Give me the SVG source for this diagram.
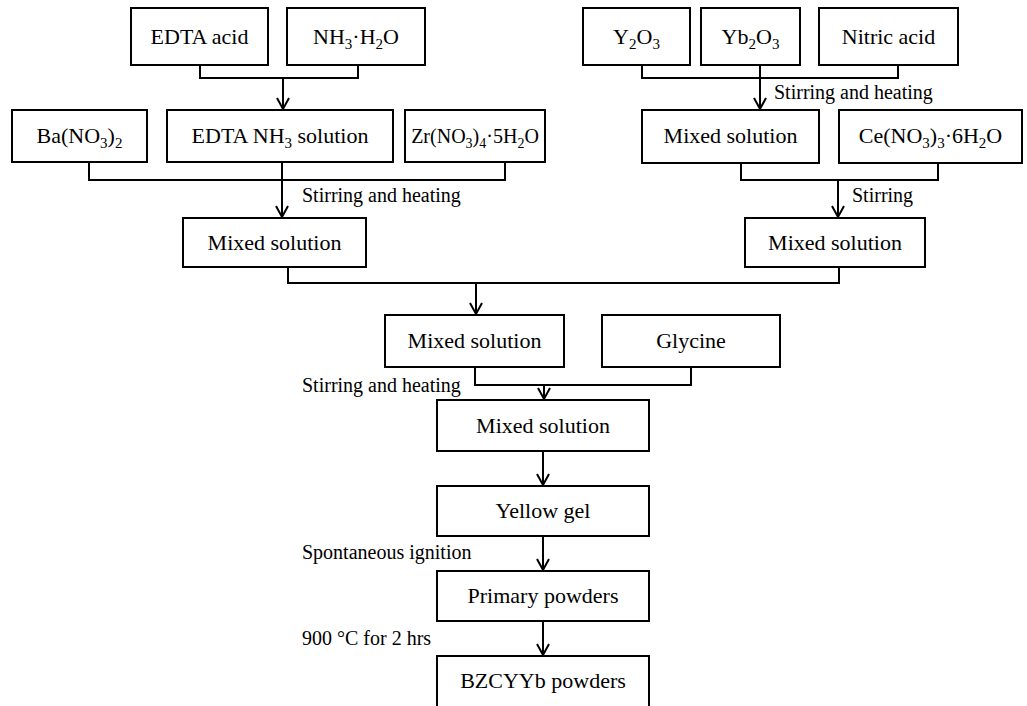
<svg xmlns="http://www.w3.org/2000/svg" width="1027" height="706" viewBox="0 0 1027 706">
<style>
.box{fill:#fff;stroke:#000;stroke-width:2}
.t{font-size:22px;fill:#000;text-anchor:middle}
.l{font-size:20px;fill:#000}
.c{fill:none;stroke:#000;stroke-width:2}
.s{font-size:15px}
</style>
<defs>
<marker id="ah" markerUnits="userSpaceOnUse" markerWidth="20" markerHeight="20" refX="0" refY="0" orient="auto" overflow="visible">
<path d="M-11,-6 L0,0 L-11,6" fill="none" stroke="#000" stroke-width="2"/>
</marker>
</defs>
<rect width="1027" height="706" fill="#fff"/>
<g id="connectors">
<path class="c" d="M200,65 V78 H358 V65"/>
<path class="c" d="M283,78 V109" marker-end="url(#ah)"/>
<path class="c" d="M642,65 V78 H898 V65"/>
<path class="c" d="M760,65 V109" marker-end="url(#ah)"/>
<path class="c" d="M89,162 V180 H505 V162"/>
<path class="c" d="M282,162 V217" marker-end="url(#ah)"/>
<path class="c" d="M741,163 V180 H938 V163"/>
<path class="c" d="M838,180 V217" marker-end="url(#ah)"/>
<path class="c" d="M288,267 V283 H839 V267"/>
<path class="c" d="M476,283 V314" marker-end="url(#ah)"/>
<path class="c" d="M475,367 V385 H691 V367"/>
<path class="c" d="M544,385 V399" marker-end="url(#ah)"/>
<path class="c" d="M543,451 V485" marker-end="url(#ah)"/>
<path class="c" d="M543,536 V570" marker-end="url(#ah)"/>
<path class="c" d="M543,621 V655" marker-end="url(#ah)"/>
</g>
<g font-family="Liberation Serif, Times New Roman, DejaVu Serif, serif">
<g id="labels">
<text class="l" x="774" y="99">Stirring and heating</text>
<text class="l" x="302" y="202">Stirring and heating</text>
<text class="l" x="852" y="202">Stirring</text>
<text class="l" x="302" y="392">Stirring and heating</text>
<text class="l" x="302" y="559">Spontaneous ignition</text>
<text class="l" x="302" y="645">900 °C for 2 hrs</text>
</g>
<g id="n-edta"><rect class="box" x="131" y="8" width="137" height="57"/><text class="t" x="199.5" y="44">EDTA acid</text></g>
<g id="n-nh3h2o"><rect class="box" x="287" y="8" width="138" height="57"/><text class="t" x="356" y="44">NH<tspan class="s" dy="5">3</tspan><tspan dy="-5">·H</tspan><tspan class="s" dy="5">2</tspan><tspan dy="-5">O</tspan></text></g>
<g id="n-y2o3"><rect class="box" x="583" y="8" width="107" height="57"/><text class="t" x="636.5" y="44">Y<tspan class="s" dy="5">2</tspan><tspan dy="-5">O</tspan><tspan class="s" dy="5">3</tspan></text></g>
<g id="n-yb2o3"><rect class="box" x="701" y="8" width="99" height="57"/><text class="t" x="750.5" y="44">Yb<tspan class="s" dy="5">2</tspan><tspan dy="-5">O</tspan><tspan class="s" dy="5">3</tspan></text></g>
<g id="n-nitric"><rect class="box" x="819" y="8" width="139" height="57"/><text class="t" x="888.5" y="44">Nitric acid</text></g>
<g id="n-ba"><rect class="box" x="12" y="110" width="135" height="52"/><text class="t" x="79.5" y="143">Ba(NO<tspan class="s" dy="5">3</tspan><tspan dy="-5">)</tspan><tspan class="s" dy="5">2</tspan></text></g>
<g id="n-edtanh3"><rect class="box" x="167" y="110" width="226" height="52"/><text class="t" x="280" y="143">EDTA NH<tspan class="s" dy="5">3</tspan><tspan dy="-5"> solution</tspan></text></g>
<g id="n-zr"><rect class="box" x="405" y="110" width="140" height="52"/><text class="t" x="475" y="143" style="font-size:20px">Zr(NO<tspan style="font-size:14px" dy="5">3</tspan><tspan dy="-5">)</tspan><tspan style="font-size:14px" dy="5">4</tspan><tspan dy="-5">·5H</tspan><tspan style="font-size:14px" dy="5">2</tspan><tspan dy="-5">O</tspan></text></g>
<g id="n-mix1"><rect class="box" x="642" y="110" width="177" height="53"/><text class="t" x="730.5" y="143">Mixed solution</text></g>
<g id="n-ce"><rect class="box" x="839" y="110" width="183" height="53"/><text class="t" x="930.5" y="143">Ce(NO<tspan class="s" dy="5">3</tspan><tspan dy="-5">)</tspan><tspan class="s" dy="5">3</tspan><tspan dy="-5">·6H</tspan><tspan class="s" dy="5">2</tspan><tspan dy="-5">O</tspan></text></g>
<g id="n-mix2"><rect class="box" x="183" y="218" width="183" height="49"/><text class="t" x="274.5" y="250">Mixed solution</text></g>
<g id="n-mix3"><rect class="box" x="745" y="218" width="180" height="49"/><text class="t" x="835" y="250">Mixed solution</text></g>
<g id="n-mix4"><rect class="box" x="385" y="315" width="179" height="52"/><text class="t" x="474.5" y="348">Mixed solution</text></g>
<g id="n-glycine"><rect class="box" x="602" y="315" width="178" height="52"/><text class="t" x="691" y="348">Glycine</text></g>
<g id="n-mix5"><rect class="box" x="437" y="400" width="212" height="51"/><text class="t" x="543" y="433">Mixed solution</text></g>
<g id="n-gel"><rect class="box" x="437" y="486" width="212" height="50"/><text class="t" x="543" y="518">Yellow gel</text></g>
<g id="n-primary"><rect class="box" x="437" y="571" width="212" height="50"/><text class="t" x="543" y="603">Primary powders</text></g>
<g id="n-bzcyyb"><rect class="box" x="437" y="656" width="212" height="52"/><text class="t" x="543" y="688">BZCYYb powders</text></g>
</g>
</svg>
